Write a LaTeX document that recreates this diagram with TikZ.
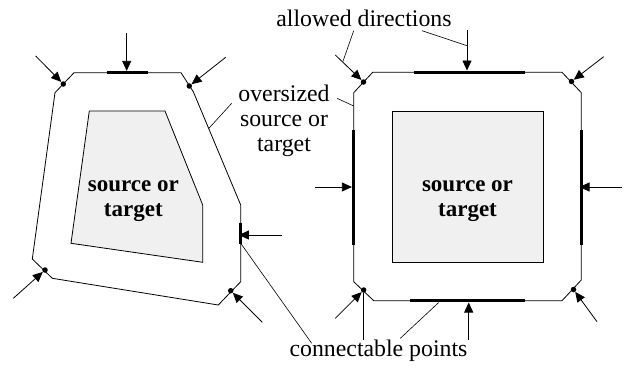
\documentclass[tikz,border=0pt]{standalone}
\usepackage{fontspec}
\setmainfont{Liberation Serif}
\usetikzlibrary{arrows.meta}

\begin{document}
\begin{tikzpicture}[x=1pt, y=-1pt,
  outline/.style={line width=0.8pt},
  inner/.style={line width=0.8pt, fill=black!6},
  seg/.style={line width=3.5pt},
  arr/.style={line width=0.8pt, -{Triangle[length=10pt, width=9pt]}},
  lead/.style={line width=0.6pt},
  dot/.style={circle, fill=black, inner sep=0pt, minimum size=5.5pt},
  lbl/.style={font=\fontsize{23.8}{25}\selectfont, align=center},
  tag/.style={font=\fontsize{23}{25}\selectfont\bfseries, align=center}
]
  \useasboundingbox (0,0) rectangle (624,367);

  % left: oversized outline around an irregular shape
  \draw[outline] (74,72.7) -- (181,72.7) -- (193.3,91.7) -- (240.7,205)
    -- (240.7,281.7) -- (218.3,305) -- (52.3,278.3) -- (32.3,259)
    -- (55,92.7) -- cycle;
  \draw[inner] (89.3,111) -- (165,111) -- (202.7,205) -- (202.7,262.3)
    -- (71,243.3) -- cycle;
  \node[tag] (lst) at (133.3,201.5) {source or\\target};

  \draw[seg] (107.3,72.7) -- (147.7,72.7);
  \draw[seg] (240.7,222.7) -- (240.7,244.3);

  \node[dot] (lul) at (63.3,84)    {};
  \node[dot] (lur) at (189.3,86)   {};
  \node[dot] (lll) at (45,270)     {};
  \node[dot] (llr) at (230.7,290.7) {};

  \coordinate (ltop)  at (126.7,70.9);
  \coordinate (lrgt)  at (238.9,235);
  \draw[arr] (126.7,33) coordinate (ltop-s) -- (ltop);
  \draw[arr] (281.7,235) coordinate (lrgt-s) -- (lrgt);
  \draw[arr] (35.7,56) coordinate (lul-s) -- (lul);
  \draw[arr] (225.7,57.3) coordinate (lur-s) -- (lur);
  \draw[arr] (13.3,298.3) coordinate (lll-s) -- (lll);
  \draw[arr] (262.3,322.3) coordinate (llr-s) -- (llr);

  % right: oversized outline around a square
  \draw[outline] (372.7,72.3) -- (562,72.3) -- (581.3,92.7) -- (581.3,280)
    -- (562,300.7) -- (373.7,300.7) -- (353.7,281.7) -- (353.7,92.7) -- cycle;
  \draw[inner] (392,111.7) rectangle (543.7,262.7);
  \node[tag] (rst) at (467.5,201.5) {source or\\target};

  \draw[seg] (413.7,72.3) -- (525.3,72.3);
  \draw[seg] (410.3,300.7) -- (525.3,300.7);
  \draw[seg] (353.7,130) -- (353.7,245);
  \draw[seg] (581.3,130) -- (581.3,245);

  \node[dot] (rul) at (363.5,82)    {};
  \node[dot] (rur) at (571.5,81.5)  {};
  \node[dot] (rll) at (363.7,290)   {};
  \node[dot] (rlr) at (573.5,289.5) {};

  \coordinate (rtop) at (467,70.5);
  \coordinate (rbot) at (468.7,302.5);
  \coordinate (rlft) at (351.9,187);
  \coordinate (rrgt) at (579.5,187);
  \draw[arr] (467,30) coordinate (rtop-s) -- (rtop);
  \draw[arr] (468.7,340) coordinate (rbot-s) -- (rbot);
  \draw[arr] (315,187) coordinate (rlft-s) -- (rlft);
  \draw[arr] (622,187) coordinate (rrgt-s) -- (rrgt);
  \draw[arr] (335.3,55) coordinate (rul-s) -- (rul);
  \draw[arr] (603.7,56.7) coordinate (rur-s) -- (rur);
  \draw[arr] (335.3,318.3) coordinate (rll-s) -- (rll);
  \draw[arr] (597,321.7) coordinate (rlr-s) -- (rlr);

  % labels and leaders
  \node[lbl, anchor=base] (dirs) at (364,26) {allowed directions};
  \draw[lead] (353.7,30.7) -- (342.7,62);
  \draw[lead] (422,30.7) -- (467,45.7);

  \node[lbl] (over) at (284,121.2) {oversized\\source or\\target};
  \draw[lead] (231.7,103.3) -- (208.7,128.5);
  \draw[lead] (337,98.3) -- (353.7,106);

  \node[lbl, anchor=base] (conn) at (378.5,356.7) {connectable points};
  \draw[lead] (311.7,343.3) -- (240.7,243.3);
  \draw[lead] (363.7,340) -- (rll);
  \draw[lead] (400.3,338.3) -- (438.7,302.5);
\end{tikzpicture}
\end{document}
